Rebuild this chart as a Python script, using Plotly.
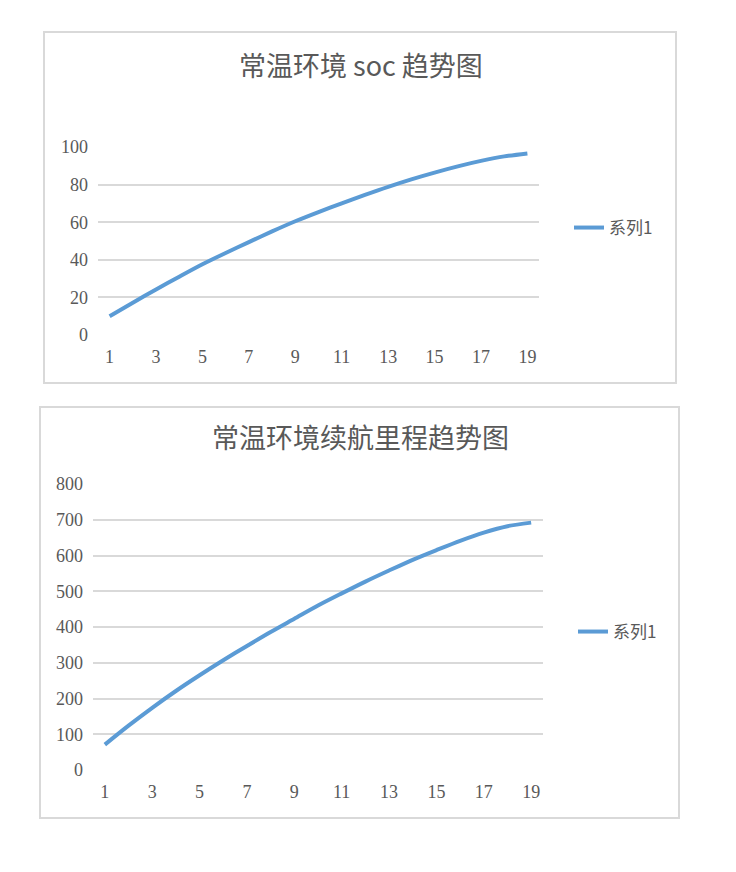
import plotly.graph_objects as go

categories = list(range(1, 20))
soc_values = [10, 17.2, 24.2, 31, 37.6, 43.6, 49.4, 55.1, 60.5, 65.4, 70, 74.5, 78.8, 82.8, 86.4, 89.7, 92.6, 95, 96.6]
range_values = [71, 124, 174, 221, 265, 307, 347, 386, 423, 460, 494, 527, 558, 588, 615, 641, 664, 682, 692]
x_tick_labels = [str(v) for v in range(1, 20, 2)]
series_name = "系列1"
title1 = "常温环境 soc 趋势图"
title2 = "常温环境续航里程趋势图"

# page body has an 8px margin; figure is sized to fit inside the viewport
OFF = 8
W, H = 720, 856
def px(x): return (x - OFF) / W
def py(y): return 1 - (y - OFF) / H

LINE = "#5B9BD5"
GRID = "#D9D9D9"
TXT = "#595959"
SERIF = "Liberation Serif, Times New Roman, serif"
CJK = "Noto Sans CJK SC, sans-serif"

fig = go.Figure()
fig.add_trace(go.Scatter(x=categories, y=soc_values, mode="lines", name=series_name, showlegend=True,
                         line=dict(color=LINE, width=4, shape="spline", smoothing=0.8),
                         xaxis="x", yaxis="y", legend="legend"))
fig.add_trace(go.Scatter(x=categories, y=range_values, mode="lines", name=series_name, showlegend=True,
                         line=dict(color=LINE, width=4, shape="spline", smoothing=0.8),
                         xaxis="x2", yaxis="y2", legend="legend2"))

xcommon = dict(range=[0.5, 19.5], tickvals=[int(t) for t in x_tick_labels], ticktext=x_tick_labels,
               showgrid=False, zeroline=False, showline=False, ticks="", automargin=False,
               tickfont=dict(family=SERIF, size=18, color=TXT), ticklabelstandoff=9, fixedrange=True)
ycommon = dict(showgrid=True, gridcolor=GRID, gridwidth=1.5, zeroline=False, showline=False, ticks="",
               automargin=False, tickfont=dict(family=SERIF, size=18, color=TXT), ticklabelstandoff=9,
               fixedrange=True)

fig.update_layout(
    template="none",
    width=W, height=H, margin=dict(l=0, r=0, t=0, b=0, pad=0), autosize=False,
    paper_bgcolor="white", plot_bgcolor="white", showlegend=True,
    xaxis=dict(domain=[px(98), px(539)], anchor="y", **xcommon),
    yaxis=dict(domain=[py(335), py(147)], anchor="x", range=[0, 100], dtick=20, **ycommon),
    xaxis2=dict(domain=[px(93), px(543)], anchor="y2", **xcommon),
    yaxis2=dict(domain=[py(770), py(484)], anchor="x2", range=[0, 800], dtick=100, **ycommon),
    legend=dict(x=px(569), y=py(228), xanchor="left", yanchor="middle",
                font=dict(family=CJK, size=17, color=TXT), bgcolor="rgba(0,0,0,0)", borderwidth=0),
    legend2=dict(x=px(573), y=py(632), xanchor="left", yanchor="middle",
                 font=dict(family=CJK, size=17, color=TXT), bgcolor="rgba(0,0,0,0)", borderwidth=0),
    shapes=[
        dict(type="rect", xref="paper", yref="paper", x0=px(44), x1=px(676), y0=py(383), y1=py(32),
             line=dict(color=GRID, width=2)),
        dict(type="rect", xref="paper", yref="paper", x0=px(40), x1=px(679), y0=py(818), y1=py(407),
             line=dict(color=GRID, width=2)),
    ],
    annotations=[
        dict(text=title1, xref="paper", yref="paper", x=px(361), y=py(64), xanchor="center", yanchor="middle",
             showarrow=False, font=dict(family=CJK, size=27, color=TXT)),
        dict(text=title2, xref="paper", yref="paper", x=px(360), y=py(437), xanchor="center", yanchor="middle",
             showarrow=False, font=dict(family=CJK, size=27, color=TXT)),
    ],
)

fig.write_html("out.html")
